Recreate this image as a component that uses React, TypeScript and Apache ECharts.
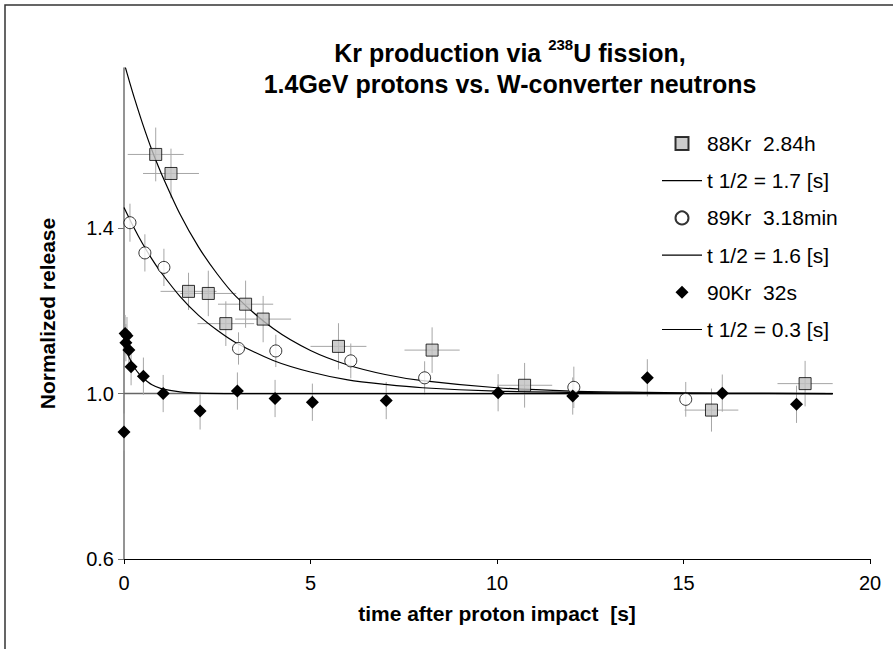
import React, { useEffect, useRef } from "react";
import * as echarts from "echarts";

// 88Kr 2.84h
const kr88X = [0.85, 1.26, 1.73, 2.26, 2.73, 3.26, 3.73, 5.75, 8.26, 10.74, 15.75, 18.26];
const kr88Y = [1.578, 1.532, 1.247, 1.242, 1.169, 1.216, 1.18, 1.114, 1.105, 1.02, 0.96, 1.024];
const kr88ErrX = [0.75, 0.75, 0.75, 0.75, 0.76, 0.74, 0.75, 0.75, 0.74, 0.74, 0.72, 0.74];
const kr88ErrY = [0.065, 0.06, 0.045, 0.055, 0.054, 0.057, 0.056, 0.056, 0.055, 0.054, 0.052, 0.055];

// 89Kr 3.18min
const kr89X = [0.16, 0.56, 1.07, 3.07, 4.07, 6.08, 8.06, 12.06, 15.06];
const kr89Y = [1.413, 1.34, 1.305, 1.109, 1.103, 1.079, 1.038, 1.015, 0.986];
const kr89ErrY = [0.046, 0.045, 0.045, 0.039, 0.039, 0.042, 0.04, 0.05, 0.042];

// 90Kr 32s
const kr90X = [0.0, 0.03, 0.08, 0.05, 0.13, 0.19, 0.52, 1.05, 2.04, 3.04, 4.05, 5.05, 7.03, 10.03, 12.03, 14.03, 16.04, 18.03];
const kr90Y = [0.907, 1.145, 1.14, 1.123, 1.105, 1.065, 1.042, 1.0, 0.958, 1.006, 0.988, 0.979, 0.983, 1.002, 0.994, 1.038, 1.001, 0.974];
const kr90ErrY = [0.045, 0.045, 0.045, 0.045, 0.045, 0.045, 0.045, 0.045, 0.045, 0.045, 0.045, 0.045, 0.045, 0.045, 0.045, 0.045, 0.045, 0.045];

// fitted curves
const fit17T = [0, 0.15, 0.3, 0.5, 0.75, 1, 1.5, 2, 2.5, 3, 4, 5, 6, 7, 8, 10, 12, 14, 16, 19];
const fit17Y = [1.8, 1.753, 1.708, 1.652, 1.588, 1.532, 1.434, 1.354, 1.289, 1.235, 1.157, 1.104, 1.069, 1.046, 1.031, 1.014, 1.006, 1.003, 1.001, 1.0];
const fit16T = [0, 0.25, 0.5, 0.75, 1, 1.5, 2, 2.5, 3, 4, 5, 6, 7, 8, 10, 12, 14, 19];
const fit16Y = [1.45, 1.404, 1.362, 1.325, 1.292, 1.235, 1.189, 1.153, 1.123, 1.08, 1.052, 1.033, 1.022, 1.014, 1.006, 1.003, 1.001, 1.0];
const fit03T = [0, 0.1, 0.2, 0.3, 0.4, 0.5, 0.75, 1, 1.5, 2, 3, 5, 10, 19];
const fit03Y = [1.12, 1.095, 1.076, 1.06, 1.048, 1.038, 1.021, 1.012, 1.004, 1.001, 1.0, 1.0, 1.0, 1.0];

const baselineT = [0, 19];
const baselineY = [1.0, 1.0];

const xTicks = [0, 5, 10, 15, 20];
const yTicks = [0.6, 1.0, 1.4];

const names = {
  kr88: "88Kr  2.84h",
  fit88: "t 1/2 = 1.7 [s]",
  kr89: "89Kr  3.18min",
  fit89: "t 1/2 = 1.6 [s]",
  kr90: "90Kr  32s",
  fit90: "t 1/2 = 0.3 [s]",
};

const FONT = "'Liberation Sans', Arial, sans-serif";

const ICON_SQUARE = "path://M0,0L10,0L10,10L0,10Z";
const ICON_DIAMOND = "path://M5,0L10,5L5,10L0,5Z";
const ICON_LINE = "path://M0,0L40,0L40,1.2L0,1.2Z";

function zip(a: number[], b: number[]) {
  return a.map((v, i) => [v, b[i]]);
}

function errData(xs: number[], ys: number[], ex: number[] | null, ey: number[]) {
  return xs.map((x, i) => [x, ys[i], ex ? ex[i] : 0, ey[i]]);
}

const errRender = (params: any, api: any) => {
  const x = api.value(0);
  const y = api.value(1);
  const ex = api.value(2);
  const ey = api.value(3);
  const children: any[] = [];
  const a = api.coord([x, y - ey]);
  const b = api.coord([x, y + ey]);
  children.push({
    type: "line",
    shape: { x1: a[0], y1: a[1], x2: b[0], y2: b[1] },
    style: { stroke: "#a6a6a6", lineWidth: 1 },
  });
  if (ex > 0) {
    const c = api.coord([x - ex, y]);
    const d = api.coord([x + ex, y]);
    children.push({
      type: "line",
      shape: { x1: c[0], y1: c[1], x2: d[0], y2: d[1] },
      style: { stroke: "#a6a6a6", lineWidth: 1 },
    });
  }
  return { type: "group", children };
};

export default function App() {
  const ref = useRef<HTMLDivElement>(null);
  useEffect(() => {
    if (!ref.current) return;
    const chart = echarts.init(ref.current, undefined, { renderer: "svg" });
    const option: any = {
      animation: false,
      backgroundColor: "#ffffff",
      title: {
        text: "Kr production via {sup|238}U fission,\n1.4GeV protons vs. W-converter neutrons",
        left: 505,
        top: 32,
        textAlign: "center",
        textStyle: {
          fontFamily: FONT,
          fontWeight: "bold",
          fontSize: 25,
          color: "#000",
          lineHeight: 31,
          rich: {
            sup: {
              fontFamily: FONT,
              fontWeight: "bold",
              fontSize: 15,
              verticalAlign: "top",
              lineHeight: 31,
              padding: [0, 0, 12, 0],
              color: "#000",
            },
          },
        },
      },
      graphic: [
        {
          type: "polyline",
          shape: { points: [[5, 649], [5, 5], [893, 5]] },
          style: { stroke: "#333", lineWidth: 1.5, fill: "none" },
          silent: true,
        },
      ],
      legend: {
        orient: "vertical",
        left: 657,
        top: 128,
        itemWidth: 40,
        itemHeight: 13,
        itemGap: 16.2,
        textStyle: { fontFamily: FONT, fontSize: 21, color: "#000" },
        data: [
          { name: names.kr88, icon: ICON_SQUARE },
          { name: names.fit88, icon: ICON_LINE },
          { name: names.kr89, icon: "circle" },
          { name: names.fit89, icon: ICON_LINE },
          { name: names.kr90, icon: ICON_DIAMOND },
          { name: names.fit90, icon: ICON_LINE },
        ],
      },
      grid: { left: 124, right: 23, top: 68, bottom: 90 },
      xAxis: {
        type: "value",
        min: 0,
        max: 20,
        interval: 5,
        name: "time after proton impact  [s]",
        nameLocation: "middle",
        nameGap: 44,
        nameTextStyle: { fontFamily: FONT, fontWeight: "bold", fontSize: 21, color: "#000" },
        axisLine: { onZero: false, lineStyle: { color: "#000", width: 1 } },
        axisTick: { show: true, length: 5, lineStyle: { color: "#000" }, customValues: xTicks },
        axisLabel: { fontFamily: FONT, fontSize: 20, color: "#000", margin: 14, customValues: xTicks },
        splitLine: { show: false },
      },
      yAxis: {
        type: "value",
        min: 0.6,
        max: 1.787,
        name: "Normalized release",
        nameLocation: "middle",
        nameGap: 66,
        nameTextStyle: { fontFamily: FONT, fontWeight: "bold", fontSize: 21, color: "#000" },
        axisLine: { show: true, onZero: false, lineStyle: { color: "#707070", width: 1.5 } },
        axisTick: { show: true, length: 6, lineStyle: { color: "#707070" }, customValues: yTicks },
        axisLabel: {
          fontFamily: FONT,
          fontSize: 20,
          color: "#000",
          margin: 10,
          customValues: yTicks,
          formatter: (v: number) => v.toFixed(1),
        },
        splitLine: { show: false },
      },
      series: [
        {
          name: "baseline",
          type: "line",
          data: zip(baselineT, baselineY),
          symbol: "none",
          lineStyle: { color: "#666", width: 1.5 },
          z: 1,
          silent: true,
        },
        {
          name: "err88",
          type: "custom",
          renderItem: errRender,
          data: errData(kr88X, kr88Y, kr88ErrX, kr88ErrY),
          z: 2,
          silent: true,
        },
        {
          name: "err89",
          type: "custom",
          renderItem: errRender,
          data: errData(kr89X, kr89Y, null, kr89ErrY),
          z: 2,
          silent: true,
        },
        {
          name: "err90",
          type: "custom",
          renderItem: errRender,
          data: errData(kr90X, kr90Y, null, kr90ErrY),
          z: 2,
          silent: true,
        },
        {
          name: names.fit88,
          type: "line",
          data: zip(fit17T, fit17Y),
          smooth: 0.3,
          symbol: "none",
          lineStyle: { color: "#000", width: 1.2 },
          itemStyle: { color: "#000" },
          z: 3,
        },
        {
          name: names.fit89,
          type: "line",
          data: zip(fit16T, fit16Y),
          smooth: 0.3,
          symbol: "none",
          lineStyle: { color: "#000", width: 1.2 },
          itemStyle: { color: "#000" },
          z: 3,
        },
        {
          name: names.fit90,
          type: "line",
          data: zip(fit03T, fit03Y),
          smooth: 0.3,
          symbol: "none",
          lineStyle: { color: "#000", width: 1.2 },
          itemStyle: { color: "#000" },
          z: 3,
        },
        {
          name: names.kr88,
          type: "scatter",
          data: zip(kr88X, kr88Y),
          symbol: "rect",
          symbolSize: 12,
          itemStyle: { color: "#c0c0c0", borderColor: "#000", borderWidth: 1 },
          z: 5,
        },
        {
          name: names.kr89,
          type: "scatter",
          data: zip(kr89X, kr89Y),
          symbol: "circle",
          symbolSize: 12,
          itemStyle: { color: "#fff", borderColor: "#000", borderWidth: 1 },
          z: 5,
        },
        {
          name: names.kr90,
          type: "scatter",
          data: zip(kr90X, kr90Y),
          symbol: "diamond",
          symbolSize: 13,
          itemStyle: { color: "#000", opacity: 1 },
          z: 5,
        },
      ],
    };
    chart.setOption(option);
    return () => chart.dispose();
  }, []);
  return <div ref={ref} style={{ width: 893, height: 649, position: "absolute", left: 0, top: 0 }} />;
}
